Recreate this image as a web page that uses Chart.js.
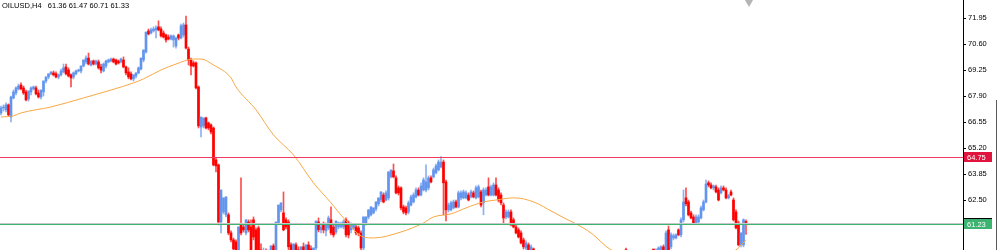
<!DOCTYPE html>
<html>
<head>
<meta charset="utf-8">
<script src="https://cdn.jsdelivr.net/npm/chart.js@4.4.0/dist/chart.umd.min.js"></script>
<style>
  html, body { margin: 0; padding: 0; background: #fff; }
  #wrap { position: relative; width: 997px; height: 250px; overflow: hidden; }
  #title { position: absolute; left: 2px; top: 1px; font: 7.5px/9px "Liberation Sans", Arial, sans-serif; color: #000; white-space: pre; }
</style>
</head>
<body>
<div id="wrap">
  <canvas id="oilChart"></canvas>
  <div id="title"></div>
</div>
<script>
const symbol = "OILUSD,H4";
const lastBar = [61.36, 61.47, 60.71, 61.33];

// right axis labels
const priceTicks = [61.15, 62.50, 63.85, 65.20, 66.55, 67.90, 69.25, 70.60, 71.95];

// horizontal levels
const resistanceLevel = 64.75;
const supportLevel = 61.23;
const bidLevel = 61.33;

// H4 candles: [open, high, low, close]
const ohlc = [
  [67.02,67.38,66.92,67.28],[67.28,67.44,67.12,67.33],[67.18,67.54,67.07,67.44],[67.44,67.49,66.87,66.92],
  [66.81,67.90,66.55,67.85],[67.80,68.21,67.75,68.11],[68.06,68.37,67.95,68.32],[68.27,68.52,68.21,68.42],
  [68.47,68.58,68.21,68.27],[68.32,68.42,67.98,68.06],[68.11,68.21,67.64,67.70],[67.75,68.16,67.64,68.16],
  [68.11,68.37,67.95,68.32],[68.27,68.42,68.21,68.37],[68.32,68.42,67.95,68.01],[68.06,68.21,67.80,67.85],
  [67.85,68.21,67.75,68.21],[68.11,68.68,67.90,68.68],[68.68,68.89,68.58,68.89],[68.89,69.05,68.79,69.05],
  [69.05,69.15,69.00,69.15],[69.10,69.20,68.94,69.00],[69.05,69.15,68.84,68.89],[68.89,69.05,68.79,69.00],
  [69.00,69.30,68.94,69.20],[69.15,69.56,69.10,69.36],[69.41,69.56,69.00,69.05],[69.25,69.36,68.89,68.94],
  [69.00,69.05,68.37,68.84],[68.89,69.15,68.79,69.10],[69.05,69.25,69.00,69.20],[69.20,69.30,69.15,69.25],
  [69.20,69.46,69.10,69.46],[69.46,69.77,69.41,69.77],[69.67,69.98,69.56,69.87],[69.87,70.13,69.51,69.56],
  [69.51,69.72,69.46,69.72],[69.72,69.77,69.51,69.56],[69.56,69.77,69.51,69.72],[69.67,69.77,69.30,69.36],
  [69.41,69.56,69.10,69.25],[69.20,69.62,69.15,69.56],[69.46,69.77,69.36,69.72],[69.67,69.82,69.62,69.77],
  [69.72,69.87,69.67,69.82],[69.82,69.87,69.62,69.67],[69.77,69.82,69.51,69.56],[69.72,69.77,69.56,69.62],
  [69.67,69.87,69.62,69.82],[69.77,69.93,69.36,69.41],[69.41,69.46,69.00,69.10],[69.15,69.36,68.79,68.89],
  [69.05,69.15,68.73,68.79],[68.79,69.00,68.68,69.00],[68.94,69.10,68.84,69.10],[69.10,69.41,69.05,69.36],
  [69.30,69.87,69.25,69.87],[69.77,70.29,69.67,70.29],[70.19,71.22,70.13,71.22],[71.28,71.38,71.07,71.12],
  [71.17,71.43,71.12,71.33],[71.28,71.49,71.22,71.38],[71.33,71.54,70.91,71.43],[71.49,71.80,71.28,71.33],
  [71.38,71.49,70.96,71.02],[71.17,71.28,70.91,70.96],[71.07,71.12,70.70,70.81],[70.96,71.07,70.81,70.86],
  [70.86,71.07,70.81,71.02],[70.81,71.07,70.44,71.02],[70.50,70.96,70.39,70.91],[71.07,71.12,70.81,70.91],
  [70.91,71.64,70.86,71.54],[71.07,71.69,70.96,71.59],[71.59,72.05,70.34,70.39],[70.34,70.44,69.51,69.77],
  [69.77,69.87,69.00,69.46],[69.62,69.72,69.41,69.46],[69.62,69.67,68.27,68.32],[68.37,68.42,66.24,66.35],
  [66.29,66.81,65.77,66.81],[66.35,66.76,66.24,66.76],[66.76,66.81,66.19,66.24],[66.50,66.55,66.14,66.24],
  [66.40,66.45,65.93,66.03],[66.24,66.29,64.27,64.32],[64.58,64.68,63.96,64.27],[64.32,64.37,61.21,61.36],
  [61.36,63.02,60.79,63.02],[61.88,62.61,61.78,62.61],[61.73,62.66,61.62,62.66],[61.73,61.83,60.69,60.79],
  [60.79,60.90,60.33,60.43],[60.43,60.53,59.70,59.96],[60.33,60.43,59.60,59.80],[59.91,61.10,59.65,61.10],
  [61.21,63.65,60.69,60.79],[61.10,61.21,60.84,60.95],[60.79,61.47,60.69,61.47],[61.36,61.47,60.84,60.95],
  [61.10,61.47,59.80,59.91],[61.47,61.62,60.43,60.58],[60.95,61.05,59.65,59.91],[61.05,61.15,59.49,59.80],
  [59.91,60.22,59.28,59.49],[59.39,60.01,59.18,59.80],[59.80,59.96,59.08,59.28],[59.28,59.91,59.13,59.70],
  [59.65,60.12,59.49,60.12],[60.12,60.22,59.60,59.80],[59.91,61.36,59.80,61.36],[61.31,62.24,61.21,62.24],
  [61.99,62.35,61.88,62.35],[61.83,62.92,60.90,60.95],[61.47,61.57,61.00,61.10],[61.36,61.47,59.91,60.07],
  [60.17,60.27,59.60,59.91],[59.80,60.22,59.60,60.22],[60.17,60.27,59.49,59.80],[59.91,60.07,59.39,59.60],
  [59.60,60.07,59.49,60.07],[60.07,60.27,59.60,59.75],[59.75,60.17,59.54,60.17],[60.17,60.33,59.70,59.91],
  [59.96,60.12,59.44,59.60],[59.65,60.01,59.49,60.01],[60.01,61.41,59.91,61.41],[61.36,61.57,60.84,60.95],
  [60.95,61.21,60.79,61.10],[61.21,61.36,60.79,60.95],[60.90,61.31,60.64,61.21],[61.05,61.67,60.95,61.57],
  [61.47,62.14,60.69,60.79],[61.10,61.21,60.58,60.69],[60.84,61.41,60.74,61.41],[61.10,61.36,61.00,61.31],
  [61.10,61.36,61.05,61.26],[61.10,61.47,61.00,61.36],[61.47,61.57,60.58,60.69],[61.31,61.41,60.53,60.69],
  [60.95,61.31,60.79,61.21],[61.05,61.26,60.95,61.21],[61.10,61.21,60.69,60.79],[61.05,61.15,60.64,60.79],
  [60.79,60.90,59.80,60.01],[60.01,61.62,59.80,61.62],[61.31,61.62,61.21,61.62],[61.62,61.99,61.52,61.99],
  [61.73,62.14,61.67,62.14],[61.83,62.09,61.78,62.09],[62.04,62.40,61.93,62.40],[62.30,62.61,62.19,62.61],
  [62.50,62.92,62.40,62.92],[62.76,62.87,62.35,62.40],[62.50,62.97,62.45,62.87],[62.61,63.96,62.50,63.96],
  [63.70,64.06,63.65,64.06],[64.01,64.37,63.65,63.70],[63.65,63.75,62.82,62.87],[63.13,63.23,62.76,62.87],
  [63.13,63.18,61.99,62.09],[62.14,62.24,61.78,61.88],[62.09,62.19,61.73,61.83],[61.88,62.45,61.78,62.35],
  [62.24,62.76,62.19,62.66],[62.40,62.87,62.35,62.76],[62.66,63.13,62.61,63.02],[63.02,63.13,62.71,62.76],
  [62.76,63.39,62.71,63.23],[63.02,63.65,62.97,63.54],[63.02,64.32,62.92,63.44],[63.13,63.75,63.02,63.65],
  [63.65,63.75,63.39,63.44],[63.70,64.16,63.65,64.06],[63.91,64.37,63.85,64.27],[64.06,64.58,64.01,64.47],
  [64.22,64.75,64.16,64.47],[64.47,64.58,61.73,63.39],[63.44,63.54,61.41,61.99],[61.99,62.35,61.88,62.24],
  [61.99,62.45,61.93,62.35],[62.09,62.50,62.04,62.40],[62.40,62.50,62.09,62.14],[62.14,62.97,62.09,62.87],
  [62.61,62.97,62.50,62.87],[62.61,63.02,62.56,62.92],[62.61,62.97,62.56,62.87],[62.76,62.87,62.45,62.50],
  [62.66,63.02,62.61,62.92],[62.87,62.97,62.61,62.66],[62.61,63.23,62.56,63.13],[62.66,63.28,62.61,63.18],
  [62.92,63.02,62.14,62.24],[62.35,63.13,61.73,63.02],[62.76,63.13,62.71,63.02],[63.18,63.65,62.71,62.76],
  [62.76,63.28,62.71,63.18],[62.76,63.39,62.71,63.28],[63.28,63.65,62.71,62.76],[63.02,63.13,62.40,62.50],
  [62.76,62.87,62.24,62.35],[62.24,62.35,61.31,61.57],[61.62,61.99,61.52,61.88],[61.62,61.99,61.57,61.88],
  [61.88,61.99,61.15,61.21],[61.47,61.57,61.05,61.10],[61.10,61.21,60.74,60.79],[60.95,61.05,60.53,60.58],
  [60.79,60.90,60.22,60.27],[60.43,60.53,59.96,60.07],[60.01,60.38,59.91,60.27],[60.17,60.27,59.80,59.91],
  [59.91,60.17,59.80,60.07],[59.96,60.01,59.39,59.49],[59.49,59.60,59.10,59.18],[59.18,59.44,59.00,59.36],
  [59.36,59.45,58.90,58.98],[58.98,59.20,58.75,58.85],[58.85,59.15,58.80,59.08],[59.08,59.30,58.95,59.02],
  [59.02,59.10,58.60,58.66],[58.66,58.90,58.50,58.82],[58.82,59.05,58.70,58.95],[58.95,59.25,58.90,59.18],
  [59.18,59.40,59.05,59.12],[59.12,59.20,58.80,58.88],[58.88,58.98,58.55,58.62],[58.62,58.80,58.40,58.72],
  [58.72,59.00,58.65,58.93],[58.93,59.10,58.78,58.85],[58.85,58.95,58.50,58.58],[58.58,58.70,58.30,58.44],
  [58.44,58.75,58.38,58.68],[58.68,58.92,58.60,58.86],[58.86,59.15,58.80,59.08],[59.08,59.32,59.00,59.25],
  [59.25,59.40,59.05,59.12],[59.12,59.30,58.95,59.22],[59.22,59.48,59.15,59.40],[59.40,59.55,59.20,59.28],
  [59.28,59.45,59.10,59.38],[59.38,59.62,59.30,59.55],[59.55,59.70,59.35,59.42],[59.42,59.55,59.20,59.30],
  [59.30,59.50,59.15,59.45],[59.45,59.70,59.40,59.62],[59.62,59.75,59.45,59.52],[59.52,59.68,59.38,59.60],
  [59.60,59.80,59.50,59.72],[59.72,59.85,59.55,59.66],[59.92,60.01,59.60,59.70],[59.70,59.85,59.52,59.78],
  [59.78,59.88,59.50,59.58],[59.58,59.75,59.40,59.68],[59.68,59.82,59.50,59.55],[59.55,59.70,59.35,59.62],
  [59.62,59.84,59.55,59.76],[59.76,59.88,59.60,59.66],[59.66,59.80,59.48,59.74],[59.74,59.86,59.55,59.62],
  [59.62,59.80,59.50,59.75],[59.75,59.88,59.58,59.70],[59.65,59.96,59.55,59.91],[59.86,60.07,59.75,60.01],
  [59.91,60.12,59.80,60.07],[60.07,60.17,59.65,59.80],[59.80,60.90,59.70,60.79],[60.95,61.15,59.75,59.91],
  [60.07,60.79,59.96,60.69],[60.53,60.74,60.43,60.64],[60.53,60.74,60.48,60.69],[60.95,61.00,60.64,60.69],
  [60.69,61.57,60.58,61.47],[61.47,63.02,61.36,62.40],[62.61,63.13,62.19,62.30],[62.40,62.50,61.67,61.73],
  [61.83,61.93,61.52,61.57],[61.62,61.73,61.26,61.31],[61.31,61.73,61.26,61.62],[61.36,61.73,61.26,61.62],
  [61.57,62.19,61.52,62.09],[61.99,62.50,61.93,62.40],[62.40,63.54,62.35,63.33],[63.39,63.49,63.18,63.28],
  [63.28,63.39,63.07,63.13],[63.13,63.28,63.02,63.23],[63.18,63.28,62.87,62.92],[63.02,63.13,62.45,62.50],
  [62.87,63.23,62.82,63.13],[63.13,63.23,62.97,63.02],[63.02,63.13,62.56,62.61],[62.61,62.80,62.55,62.72],
  [62.92,63.02,62.71,62.76],[62.50,62.61,61.41,61.47],[61.88,61.99,61.00,61.05],[61.31,61.41,60.12,60.17],
  [60.17,60.79,60.07,60.79],[60.17,61.52,60.07,61.47],[61.36,61.47,60.71,61.33]
];

// moving average (orange), sampled at bar indices
const maIndex = [0,5,8,20,33,44,53,57,64,70,77,80,85,92,94,102,109,117,125,132,137,145,149,160,169,173,180,186,193,198,205,209,214,220,226,230,236,244,256,272,288,294,298];
const maValues = [66.81,66.87,67.02,67.33,67.80,68.21,68.58,68.79,69.25,69.56,69.82,69.82,69.51,68.84,68.37,67.18,65.88,64.84,63.39,62.35,61.57,60.58,60.53,60.84,61.31,61.62,61.78,62.09,62.40,62.50,62.61,62.56,62.35,61.93,61.52,61.26,60.79,59.91,59.50,59.28,59.60,59.91,60.43];

document.getElementById("title").textContent = symbol + "   " + lastBar.map(v => v.toFixed(2)).join(" ");

const bull = "#6495ED";
const bear = "#FF0000";
const colors = ohlc.map(c => c[3] >= c[0] ? bull : bear);
const wickColors = ohlc.map(c => c[3] >= c[0] ? "rgba(100,149,237,0.75)" : "rgba(255,0,0,0.7)");

const bodies = ohlc.map((c, i) => ({ x: i, y: [c[0], c[3]] }));
const wicks = ohlc.map((c, i) => ({ x: i, y: [c[2], c[1]] }));
const maPoints = maIndex.map((x, i) => ({ x: x, y: maValues[i] }));

function priceBox(ctx, y, value, fill, x0) {
    ctx.fillStyle = fill;
    ctx.fillRect(x0, Math.round(y) - 5, 28, 10);
    ctx.fillStyle = "#fff";
    ctx.font = '7.5px "Liberation Sans", Arial, sans-serif';
    ctx.textBaseline = "middle";
    ctx.textAlign = "left";
    ctx.fillText(value.toFixed(2), x0 + 3, Math.round(y) + 0.5);
}

const levelsPlugin = {
    id: "levels",
    afterDatasetsDraw(chart) {
        const { ctx, chartArea: a, scales: { y } } = chart;
        ctx.save();
        const hline = (v, color) => {
            const py = Math.round(y.getPixelForValue(v));
            ctx.fillStyle = color;
            ctx.fillRect(a.left, py, a.right - a.left, 1);
        };
        hline(bidLevel, "#c8c8c8");
        hline(supportLevel, "#3cb371");
        hline(resistanceLevel, "#ee3a5e");
        // chart shift marker
        ctx.fillStyle = "#b4b4b4";
        ctx.beginPath();
        ctx.moveTo(745, 0);
        ctx.lineTo(753, 0);
        ctx.lineTo(749, 7);
        ctx.closePath();
        ctx.fill();
        ctx.restore();
    },
    afterDraw(chart) {
        const { ctx, chartArea: a, scales: { y } } = chart;
        ctx.save();
        priceBox(ctx, y.getPixelForValue(resistanceLevel), resistanceLevel, "#e0143c", a.right + 1);
        priceBox(ctx, y.getPixelForValue(bidLevel), bidLevel, "#000", a.right + 1);
        priceBox(ctx, y.getPixelForValue(supportLevel), supportLevel, "#3cb371", a.right + 1);
        ctx.fillStyle = "#5a5a5a";
        ctx.fillRect(996, 100, 1, 150);
        ctx.restore();
    }
};

const ctx = document.getElementById("oilChart").getContext("2d");
new Chart(ctx, {
    type: "bar",
    data: {
        datasets: [
            {
                label: "wick",
                data: wicks,
                backgroundColor: wickColors,
                barThickness: 1,
                grouped: false,
                order: 2
            },
            {
                label: "body",
                data: bodies,
                backgroundColor: colors,
                barThickness: 2,
                minBarLength: 1,
                grouped: false,
                order: 1
            },
            {
                type: "line",
                label: "MA",
                data: maPoints,
                borderColor: "#f7a844",
                borderWidth: 1,
                pointRadius: 0,
                cubicInterpolationMode: "monotone",
                order: 0
            }
        ]
    },
    options: {
        responsive: true,
        maintainAspectRatio: false,
        animation: false,
        layout: { padding: 0 },
        plugins: { legend: { display: false }, tooltip: { enabled: false } },
        scales: {
            x: {
                type: "linear",
                display: false,
                offset: false,
                min: -0.4,
                max: 384.8
            },
            y: {
                position: "right",
                min: 59.904,
                max: 72.885,
                border: { display: true, color: "#000", width: 1 },
                grid: { drawOnChartArea: false, drawTicks: true, tickLength: 3, color: "#000" },
                ticks: {
                    color: "#000",
                    padding: 2,
                    font: { family: "Liberation Sans", size: 7.5 },
                    callback: v => Number(v).toFixed(2)
                },
                afterBuildTicks: scale => {
                    scale.ticks = priceTicks.map(v => ({ value: v }));
                },
                afterFit: scale => {
                    scale.width = 34;
                    scale.paddingTop = 0;
                    scale.paddingBottom = 0;
                }
            }
        }
    },
    plugins: [levelsPlugin]
});
</script>
</body>
</html>
